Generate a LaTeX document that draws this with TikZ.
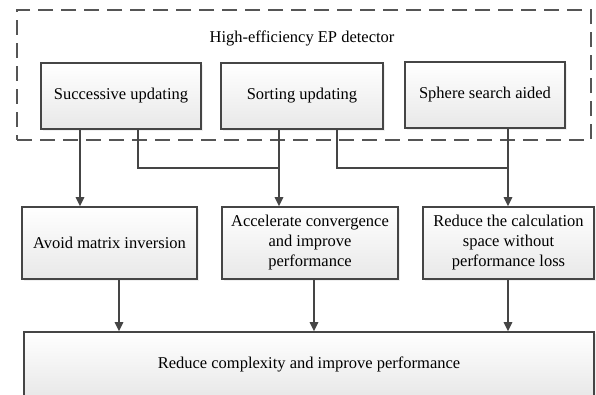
\documentclass[tikz,border=0pt]{standalone}
\usepackage{fontspec}
\setmainfont{Liberation Serif}
\usetikzlibrary{arrows.meta,shadows}
\definecolor{edgec}{HTML}{454545}
\definecolor{dashc}{HTML}{555555}
\definecolor{shadec}{HTML}{E8E8E8}
\begin{document}
\begin{tikzpicture}[x=1pt,y=-1pt,
  font=\fontsize{16.5}{20}\selectfont,
  box/.style={draw=edgec, line width=1.6pt, top color=white, bottom color=shadec,
    align=center, inner sep=2pt,
    drop shadow={opacity=0.12, shadow xshift=1.5pt, shadow yshift=-1.5pt}},
  link/.style={draw=edgec, line width=1.5pt},
  arr/.style={link, -{Triangle[length=9pt,width=8.5pt]}},
  group/.style={draw=dashc, line width=2pt, dash pattern=on 15pt off 8pt}]
\useasboundingbox (0,0) rectangle (596,394);
\clip (0,0) rectangle (596,394);
% dashed group
\node[group, minimum width=574pt, minimum height=130pt] (grp) at (304,75) {};
\node (title) at (302,38) {High-efficiency EP detector};
% top boxes
\node[box, minimum width=160pt, minimum height=66pt] (s1) at (121,96) {Successive updating};
\node[box, minimum width=162pt, minimum height=66pt] (s2) at (302,96) {Sorting updating};
\node[box, minimum width=160pt, minimum height=66pt] (s3) at (485,95) {Sphere search aided};
% middle boxes
\node[box, minimum width=175pt, minimum height=72pt] (a1) at (109.5,243) {Avoid matrix inversion};
\node[box, minimum width=176pt, minimum height=72pt] (a2) at (310,243) {Accelerate convergence\\and improve\\performance};
\node[box, minimum width=171pt, minimum height=72pt] (a3) at (508.5,243) {Reduce the calculation\\space without\\performance loss};
% bottom box
\node[box, minimum width=570pt, minimum height=64pt] (b) at (309,364) {Reduce complexity and improve performance};
% vertical positions of connectors
\coordinate (x1) at (80,0);
\coordinate (x2) at (138,0);
\coordinate (x3) at (279,0);
\coordinate (x4) at (337,0);
\coordinate (x5) at (508,0);
\coordinate (x6) at (119,0);
\coordinate (x7) at (314,0);
\coordinate (j1) at (279,168);
\coordinate (j2) at (508,168);
% connectors
\draw[arr] (s1.south -| x1) -- (a1.north -| x1);
\draw[link] (s1.south -| x2) |- (j1);
\draw[arr] (s2.south -| x3) -- (a2.north -| x3);
\draw[link] (s2.south -| x4) |- (j2);
\draw[arr] (s3.south -| x5) -- (a3.north -| x5);
\draw[arr] (a1.south -| x6) -- (b.north -| x6);
\draw[arr] (a2.south -| x7) -- (b.north -| x7);
\draw[arr] (a3.south -| x5) -- (b.north -| x5);
\end{tikzpicture}
\end{document}
